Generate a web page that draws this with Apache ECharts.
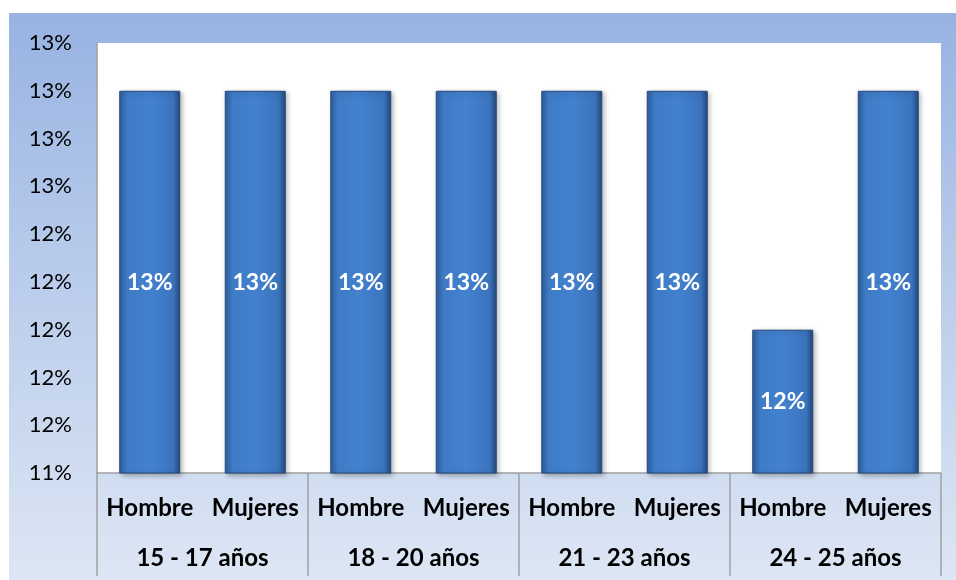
<!DOCTYPE html>
<html>
<head>
<meta charset="utf-8">
<script src="https://cdn.jsdelivr.net/npm/echarts@6/dist/echarts.min.js"></script>
<style>
html,body{margin:0;padding:0;background:#fff;}
#bg{position:absolute;left:9px;top:13px;width:947px;height:567px;background:linear-gradient(to bottom,#98b3e2 0%,#b8cbeb 45%,#dde6f4 100%);}
#chart{position:absolute;left:0;top:0;width:956px;height:580px;}
</style>
</head>
<body>
<div id="bg"></div>
<div id="chart"></div>
<script>
const categories = ['Hombre','Mujeres','Hombre','Mujeres','Hombre','Mujeres','Hombre','Mujeres'];
const groups = ['15 - 17 años','18 - 20 años','21 - 23 años','24 - 25 años'];
const values = [13.0,13.0,13.0,13.0,13.0,13.0,12.0,13.0];
const yMin = 11.4, yMax = 13.2, yStep = 0.2;

const chart = echarts.init(document.getElementById('chart'), null, {renderer:'canvas'});
const font = 'Lato, "Open Sans", sans-serif';
const pct = v => Math.round(v) + '%';

chart.setOption({
  backgroundColor: 'transparent',
  animation: false,
  grid: {left:97, right:15, top:43, bottom:107, show:true, backgroundColor:'#ffffff', borderWidth:0},
  xAxis: [
    {
      type:'category', data: categories, position:'bottom',
      axisLine:{show:true, lineStyle:{color:'#a0a0a0', width:1.5}},
      axisTick:{show:false},
      axisLabel:{margin:23, fontFamily:font, fontWeight:'bold', fontSize:24, color:'#000', interval:0}
    },
    {
      type:'category', data: groups, position:'bottom',
      axisLine:{show:false},
      axisTick:{show:true, length:103, lineStyle:{color:'#a0a0a0', width:1.5}},
      axisLabel:{margin:73, fontFamily:font, fontWeight:'bold', fontSize:24, color:'#000', interval:0}
    }
  ],
  yAxis: {
    type:'value', min:yMin, max:yMax, interval:yStep,
    axisLine:{show:true, lineStyle:{color:'#a0a0a0', width:1.5}},
    axisTick:{show:false},
    splitLine:{show:false},
    axisLabel:{margin:25, fontFamily:font, fontSize:22, color:'#000', formatter: pct}
  },
  series: [{
    type:'bar', xAxisIndex:0, data: values, barWidth:61,
    itemStyle:{
      color: new echarts.graphic.LinearGradient(0,0,1,0,[
        {offset:0, color:'#2f5f9f'},
        {offset:0.12, color:'#3f7bc6'},
        {offset:0.5, color:'#4281cf'},
        {offset:0.88, color:'#3b74bd'},
        {offset:1, color:'#24487a'}
      ]),
      borderColor:'#244a7e', borderWidth:1,
      shadowColor:'rgba(0,0,0,0.3)', shadowBlur:5, shadowOffsetX:2, shadowOffsetY:2
    },
    label:{show:true, position:'inside', formatter: p => pct(p.value), color:'#fff', fontFamily:font, fontWeight:'bold', fontSize:23}
  }]
});
</script>
</body>
</html>
